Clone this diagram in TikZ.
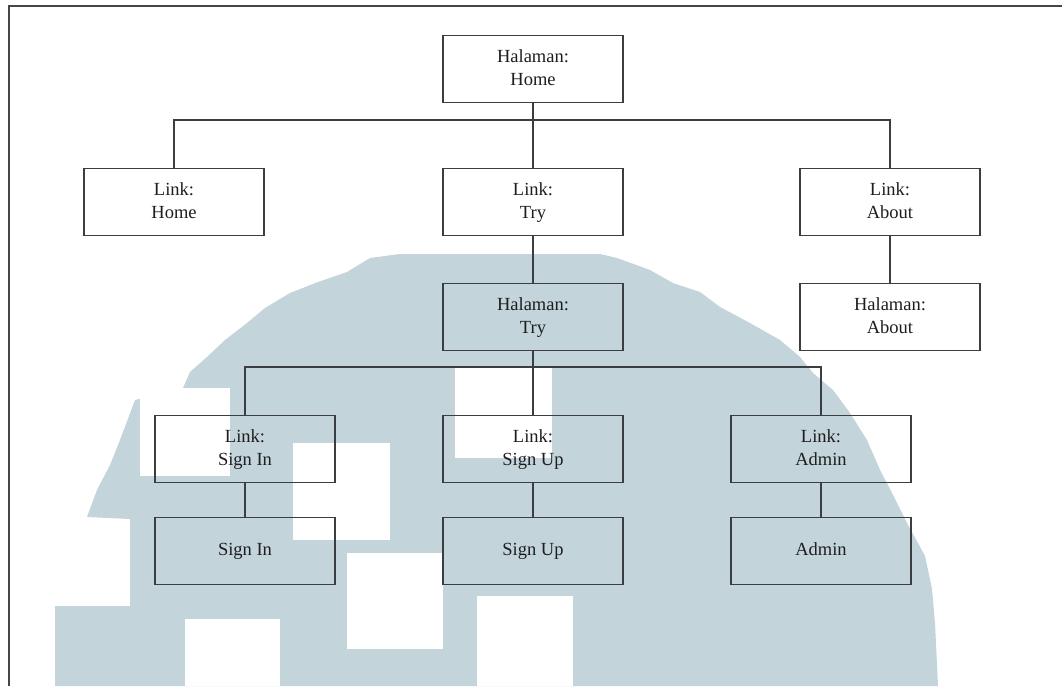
\documentclass[tikz,border=0pt]{standalone}
\usepackage{fontspec}
\setmainfont{Liberation Serif}
\definecolor{wm}{RGB}{195,212,219}
\definecolor{boxline}{RGB}{58,62,64}
\definecolor{txt}{RGB}{30,30,30}
\definecolor{frame}{RGB}{70,70,70}
\newcommand{\boxline}[1]{#1\strut}
\begin{document}
\begin{tikzpicture}[x=1pt,y=-1pt,
  box/.style={draw=boxline, line width=1.4pt, minimum width=180pt,
    minimum height=67pt, inner sep=0pt, align=center,
    font=\fontsize{18.5}{23}\selectfont, text=txt},
  wire/.style={draw=boxline, line width=1.3pt},
  hole/.style={fill=white, draw=none}]
\useasboundingbox (0,0) rectangle (1062,686);
\fill[white] (0,0) rectangle (1062,686);

% background emblem
\fill[wm] (400,254) -- (600,254) -- (617,258) -- (650,270) -- (673,283)
  -- (700,292) -- (720,307) -- (750,323) -- (780,340) -- (800,357)
  -- (813,373) -- (833,390) -- (850,413) -- (867,440) -- (880,470)
  -- (890,489) -- (907,523) -- (925,556) -- (932,589) -- (935,623)
  -- (938,686) -- (55,686) -- (55,606) -- (130,606) -- (130,519)
  -- (87,517) -- (97,490) -- (110,465) -- (120,440) -- (135,400)
  -- (183,388) -- (190,372) -- (207,357) -- (225,340) -- (247,323)
  -- (265,308) -- (290,293) -- (318,282) -- (347,272) -- (370,258) -- cycle;
\fill[hole] (140,388) rectangle (230,476);
\fill[hole] (455,368) rectangle (552,458);
\fill[hole] (293,443) rectangle (390,540);
\fill[hole] (347,553) rectangle (443,649);
\fill[hole] (477,596) rectangle (573,686);
\fill[hole] (185,619) rectangle (280,686);

% page frame
\draw[frame, line width=2.4pt] (8,6) -- (1062,6);
\draw[frame, line width=2pt] (9,6) -- (9,686);

% boxes
\node[box] (home)    at (533,69)  {\boxline{Halaman:}\\\boxline{Home}};
\node[box] (lhome)   at (174,202) {\boxline{Link:}\\\boxline{Home}};
\node[box] (ltry)    at (533,202) {\boxline{Link:}\\\boxline{Try}};
\node[box] (labout)  at (890,202) {\boxline{Link:}\\\boxline{About}};
\node[box] (ptry)    at (533,317) {\boxline{Halaman:}\\\boxline{Try}};
\node[box] (pabout)  at (890,317) {\boxline{Halaman:}\\\boxline{About}};
\node[box] (lsignin) at (245,449) {\boxline{Link:}\\\boxline{Sign In}};
\node[box] (lsignup) at (533,449) {\boxline{Link:}\\\boxline{Sign Up}};
\node[box] (ladmin)  at (821,449) {\boxline{Link:}\\\boxline{Admin}};
\node[box] (signin)  at (245,551) {\boxline{Sign In}};
\node[box] (signup)  at (533,551) {\boxline{Sign Up}};
\node[box] (admin)   at (821,551) {\boxline{Admin}};

% bus points
\coordinate (bus1) at (533,120);
\coordinate (bus2) at (533,367);

% connectors
\draw[wire] (home.south) -- (bus1);
\draw[wire] (bus1) -| (lhome.north);
\draw[wire] (bus1) -- (ltry.north);
\draw[wire] (bus1) -| (labout.north);
\draw[wire] (ltry.south) -- (ptry.north);
\draw[wire] (labout.south) -- (pabout.north);
\draw[wire] (ptry.south) -- (bus2);
\draw[wire] (bus2) -| (lsignin.north);
\draw[wire] (bus2) -- (lsignup.north);
\draw[wire] (bus2) -| (ladmin.north);
\draw[wire] (lsignin.south) -- (signin.north);
\draw[wire] (lsignup.south) -- (signup.north);
\draw[wire] (ladmin.south) -- (admin.north);
\end{tikzpicture}
\end{document}
